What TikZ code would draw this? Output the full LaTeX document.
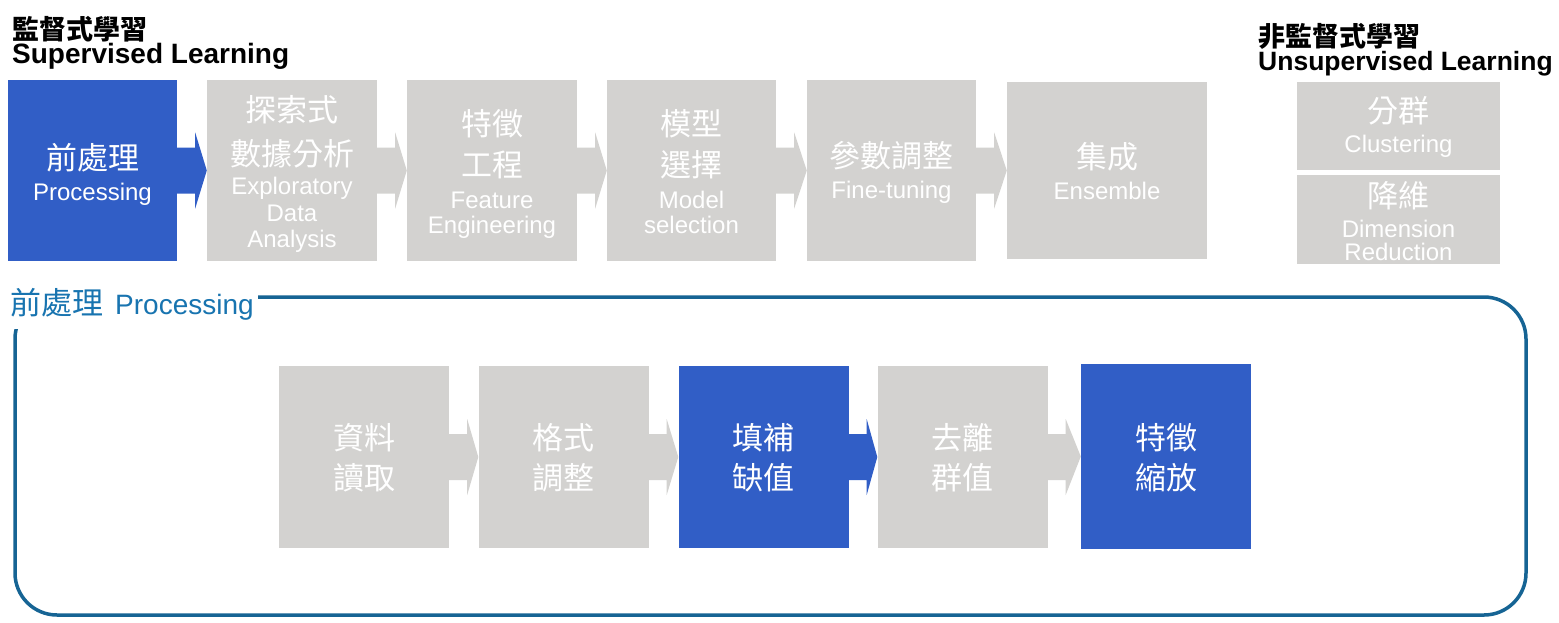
\documentclass[tikz,border=0pt]{standalone}
\usepackage{fontspec}
\setmainfont{Liberation Sans}
\newfontfamily\cjk{Noto Sans CJK TC}
\usetikzlibrary{calc}
\definecolor{bblue}{RGB}{49,94,198}
\definecolor{bgray}{RGB}{211,210,208}
\definecolor{frameblue}{RGB}{22,100,148}
\definecolor{labelblue}{RGB}{24,116,176}
\newcommand\flowarrow[3]{%
  \fill[#1] ($(#2.east)+(0,-23)$) -- ($(#2.east)+(18,-23)$) -- ($(#2.east)+(18,-38)$)
    -- (#3.west) -- ($(#2.east)+(18,38)$) -- ($(#2.east)+(18,23)$) -- ($(#2.east)+(0,23)$) -- cycle;}
\begin{document}
\begin{tikzpicture}[x=1pt,y=-1pt,
  stepbox/.style={rectangle, inner sep=0pt, minimum width=170pt, minimum height=181pt, draw=none},
  bluebox/.style={stepbox, fill=bblue},
  graybox/.style={stepbox, fill=bgray},
  cjkt/.style={text=white, inner sep=0pt, font=\cjk\fontsize{31}{31}\selectfont, text height=25.7pt, text depth=2.2pt},
  lat/.style={text=white, inner sep=0pt, font=\fontsize{24}{24}\selectfont, text height=17.2pt, text depth=0pt},
  titlecjk/.style={anchor=west, inner sep=0pt, font=\cjk\bfseries\fontsize{27}{27}\selectfont, text height=22.4pt, text depth=1.9pt},
  titlelat/.style={anchor=west, inner sep=0pt, font=\bfseries\fontsize{#1}{#1}\selectfont, text height=0.716*#1 pt, text depth=0pt},
]
\useasboundingbox (0,0) rectangle (1559,622);

% titles
\node[titlecjk] (t1) at (12,29) {監督式學習};
\node[titlelat=28] (t2) at (12,53.5) {Supervised Learning};
\node[titlecjk] (t3) at (1258,36) {非監督式學習};
\node[titlelat=26.5] (t4) at (1258,61.5) {Unsupervised Learning};

% top row boxes
\node[bluebox, minimum width=169pt] (b1) at (92.5,170.5) {};
\node[graybox] (b2) at (292,170.5) {};
\node[graybox] (b3) at (492,170.5) {};
\node[graybox, minimum width=169pt] (b4) at (691.5,170.5) {};
\node[graybox, minimum width=169pt] (b5) at (891.5,170.5) {};
\node[graybox, minimum width=200pt, minimum height=177pt] (b6) at (1107,170.5) {};
\flowarrow{bblue}{b1}{b2}
\flowarrow{bgray}{b2}{b3}
\flowarrow{bgray}{b3}{b4}
\flowarrow{bgray}{b4}{b5}
\flowarrow{bgray}{b5}{b6}

\node[cjkt] (b1a) at (92.5,158) {前處理};
\node[lat] (b1b) at (92.5,191.5) {Processing};
\node[cjkt] (b2a) at (292,110) {探索式};
\node[cjkt] (b2b) at (292,153.5) {數據分析};
\node[lat] (b2c) at (292,186) {Exploratory};
\node[lat] (b2d) at (292,212.5) {Data};
\node[lat] (b2e) at (292,238.5) {Analysis};
\node[cjkt] (b3a) at (492,123.5) {特徵};
\node[cjkt] (b3b) at (492,165) {工程};
\node[lat] (b3c) at (492,199.5) {Feature};
\node[lat] (b3d) at (492,225) {Engineering};
\node[cjkt] (b4a) at (691.5,123.5) {模型};
\node[cjkt] (b4b) at (691.5,165) {選擇};
\node[lat] (b4c) at (691.5,199.5) {Model};
\node[lat] (b4d) at (691.5,225) {selection};
\node[cjkt] (b5a) at (891.5,156) {參數調整};
\node[lat] (b5b) at (891.5,190) {Fine-tuning};
\node[cjkt] (b6a) at (1107,157) {集成};
\node[lat] (b6b) at (1107,191) {Ensemble};

% unsupervised boxes
\node[graybox, minimum width=203pt, minimum height=88pt] (c1) at (1398.5,126) {};
\node[graybox, minimum width=203pt, minimum height=89pt] (c2) at (1398.5,219.5) {};
\node[cjkt] (c1a) at (1398.5,111) {分群};
\node[lat] (c1b) at (1398.5,143.5) {Clustering};
\node[cjkt] (c2a) at (1398.5,196) {降維};
\node[lat] (c2b) at (1398.5,228.5) {Dimension};
\node[lat] (c2c) at (1398.5,251.5) {Reduction};

% processing frame
\node[draw=frameblue, line width=3.5pt, rounded corners=42pt, minimum width=1511pt, minimum height=318pt, inner sep=0pt] (frame) at (770.5,456) {};
\node[anchor=base west, fill=white, inner xsep=4pt, inner ysep=0pt, text height=23pt, text depth=15pt, text=labelblue, font=\fontsize{28}{28}\selectfont] (lbl) at (6,314) {{\cjk\fontsize{31}{31}\selectfont 前處理}\hspace{12pt}Processing};

% bottom row
\node[graybox, minimum height=182pt] (p1) at (364,457) {};
\node[graybox, minimum height=182pt] (p2) at (563.5,457) {};
\node[bluebox, minimum height=182pt] (p3) at (763.5,457) {};
\node[graybox, minimum height=182pt] (p4) at (962.5,457) {};
\node[bluebox, minimum height=185pt] (p5) at (1166,456.5) {};
\flowarrow{bgray}{p1}{p2}
\flowarrow{bgray}{p2}{p3}
\flowarrow{bblue}{p3}{p4}
\flowarrow{bgray}{p4}{p5}

\node[cjkt] (p1a) at (364,437.5) {資料};
\node[cjkt] (p1b) at (364,477.5) {讀取};
\node[cjkt] (p2a) at (563.5,437.5) {格式};
\node[cjkt] (p2b) at (563.5,477.5) {調整};
\node[cjkt] (p3a) at (763.5,437.5) {填補};
\node[cjkt] (p3b) at (763.5,477.5) {缺值};
\node[cjkt] (p4a) at (962.5,437.5) {去離};
\node[cjkt] (p4b) at (962.5,477.5) {群值};
\node[cjkt] (p5a) at (1166,437.5) {特徵};
\node[cjkt] (p5b) at (1166,477.5) {縮放};
\end{tikzpicture}
\end{document}
